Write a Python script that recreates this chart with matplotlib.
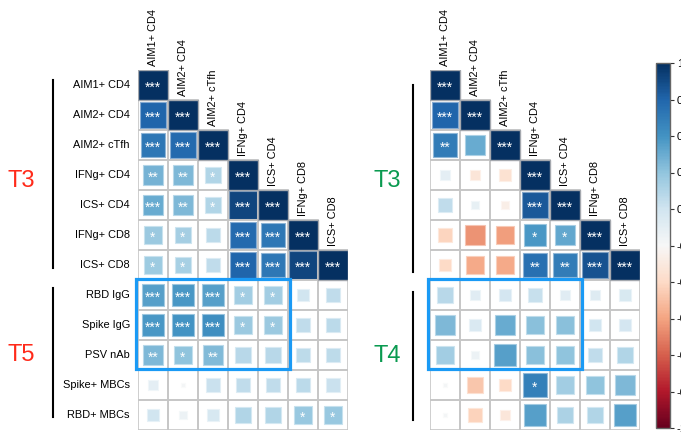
import numpy as np
import matplotlib
matplotlib.use('Agg')
import matplotlib.pyplot as plt
from matplotlib.patches import Rectangle
from matplotlib.colors import Normalize, to_rgb
import matplotlib.cm as cm

plt.rcParams['font.family'] = ['Liberation Sans', 'DejaVu Sans']

# variaveis (linhas) e colunas da matriz triangular inferior
linhas = ['AIM1+ CD4', 'AIM2+ CD4', 'AIM2+ cTfh', 'IFNg+ CD4', 'ICS+ CD4',
          'IFNg+ CD8', 'ICS+ CD8', 'RBD IgG', 'Spike IgG', 'PSV nAb',
          'Spike+ MBCs', 'RBD+ MBCs']
colunas = linhas[:7]

# correlacoes T3 x T5
corr_t5 = [
    [1.00],
    [0.80, 1.00],
    [0.72, 0.78, 1.00],
    [0.47, 0.45, 0.30, 1.00],
    [0.50, 0.45, 0.30, 0.92, 1.00],
    [0.37, 0.34, 0.27, 0.78, 0.72, 1.00],
    [0.36, 0.33, 0.25, 0.80, 0.72, 0.92, 1.00],
    [0.55, 0.58, 0.55, 0.35, 0.35, 0.20, 0.25],
    [0.58, 0.60, 0.62, 0.37, 0.37, 0.25, 0.27],
    [0.45, 0.40, 0.44, 0.28, 0.28, 0.26, 0.26],
    [0.10, 0.02, 0.22, 0.25, 0.25, 0.27, 0.22],
    [0.20, 0.06, 0.17, 0.30, 0.30, 0.38, 0.38],
]
sig_t5 = [
    ['***'],
    ['***', '***'],
    ['***', '***', '***'],
    ['**', '**', '*', '***'],
    ['***', '**', '*', '***', '***'],
    ['*', '*', '', '***', '***', '***'],
    ['*', '*', '', '***', '***', '***', '***'],
    ['***', '***', '***', '*', '*', '', ''],
    ['***', '***', '***', '*', '*', '', ''],
    ['**', '*', '**', '', '', '', ''],
    ['', '', '', '', '', '', ''],
    ['', '', '', '', '', '*', '*'],
]

# correlacoes T3 x T4
corr_t4 = [
    [1.00],
    [0.80, 1.00],
    [0.70, 0.50, 1.00],
    [0.10, -0.13, -0.15, 1.00],
    [0.25, 0.08, -0.07, 0.85, 1.00],
    [-0.22, -0.45, -0.42, 0.58, 0.52, 1.00],
    [-0.20, -0.38, -0.38, 0.75, 0.70, 0.87, 1.00],
    [0.28, 0.12, 0.18, 0.23, 0.12, 0.13, 0.16],
    [0.45, 0.15, 0.50, 0.42, 0.42, 0.20, 0.18],
    [0.35, 0.06, 0.55, 0.42, 0.40, 0.25, 0.30],
    [0.02, -0.28, -0.20, 0.68, 0.35, 0.40, 0.45],
    [0.02, -0.23, -0.12, 0.55, 0.32, 0.30, 0.55],
]
sig_t4 = [
    ['***'],
    ['***', '***'],
    ['**', '', '***'],
    ['', '', '', '***'],
    ['', '', '', '***', '***'],
    ['', '', '', '*', '*', '***'],
    ['', '', '', '**', '**', '***', '***'],
    ['', '', '', '', '', '', ''],
    ['', '', '', '', '', '', ''],
    ['', '', '', '', '', '', ''],
    ['', '', '', '*', '', '', ''],
    ['', '', '', '', '', '', ''],
]

cmap = plt.get_cmap('RdBu')
norm = Normalize(vmin=-1, vmax=1)
cor_grade = '#c6c6c6'
cor_caixa = '#1a9af5'


def clarear(cor, f=0.45):
    c = np.array(to_rgb(cor))
    return tuple(c + (1 - c) * f)


def desenha_matriz(ax, corr, sig):
    n_lin = len(corr)
    for i in range(n_lin):
        for j, r in enumerate(corr[i]):
            # grade da celula
            ax.add_patch(Rectangle((j, i), 1, 1, fill=False, edgecolor=cor_grade,
                                   linewidth=1.2, zorder=3))
            # quadrado com area proporcional a |r|
            lado = np.sqrt(abs(r)) * 0.96 if i != j else 1.0
            cor = cmap(norm(r))
            borda = '#a4a8ae' if i == j else clarear(cor)
            ax.add_patch(Rectangle((j + 0.5 - lado / 2, i + 0.5 - lado / 2), lado, lado,
                                   facecolor=cor, edgecolor=borda,
                                   linewidth=1.0 if i == j else 0.8, zorder=2 if i != j else 4))
            if sig[i][j]:
                ax.text(j + 0.5, i + 0.6, sig[i][j], ha='center', va='center',
                        color='white', fontsize=10, zorder=5)
    # rotulos das colunas sobre a diagonal
    for j, nome in enumerate(colunas):
        ax.text(j + 0.5, j - 0.13, nome, rotation=90, ha='center', va='bottom',
                fontsize=7.9, color='black')
    ax.set_xlim(0, 7)
    ax.set_ylim(n_lin, 0)
    ax.axis('off')


fig = plt.figure(figsize=(6.81, 4.33), dpi=100)
W, H = 681, 433

ax1 = fig.add_axes([138 / W, (H - 430) / H, 210 / W, 360 / H])
ax2 = fig.add_axes([430 / W, (H - 430) / H, 210 / W, 360 / H])

desenha_matriz(ax1, corr_t5, sig_t5)
desenha_matriz(ax2, corr_t4, sig_t4)

# rotulos das linhas (so na matriz da esquerda)
for i, nome in enumerate(linhas):
    ax1.text(-0.27, i + 0.5, nome, ha='right', va='center', fontsize=7.9, color='black')

# grupos
vermelho = '#ff2a1a'
verde = '#0a9a50'
ax1.text(-3.9, 3.7, 'T3', color=vermelho, fontsize=17, ha='center', va='center')
ax1.text(-3.9, 9.5, 'T5', color=vermelho, fontsize=17, ha='center', va='center')
ax2.text(-1.43, 3.7, 'T3', color=verde, fontsize=17, ha='center', va='center')
ax2.text(-1.43, 9.55, 'T4', color=verde, fontsize=17, ha='center', va='center')

ax1.plot([-2.83, -2.83], [0.33, 6.6], color='black', lw=1.5, clip_on=False)
ax1.plot([-2.83, -2.83], [7.27, 11.57], color='black', lw=1.5, clip_on=False)
ax2.plot([-0.57, -0.57], [0.5, 6.73], color='black', lw=1.5, clip_on=False)
ax2.plot([-0.57, -0.57], [7.4, 11.67], color='black', lw=1.5, clip_on=False)

# destaque anticorpos x celulas T
for ax in (ax1, ax2):
    ax.add_patch(Rectangle((-0.07, 6.95), 5.12, 3.02, fill=False, edgecolor=cor_caixa,
                           linewidth=2.3, zorder=6, clip_on=False))

# barra de cores
cax = fig.add_axes([656 / W, (H - 428) / H, 14 / W, 365 / H])
sm = cm.ScalarMappable(norm=norm, cmap=cmap)
marcas = np.round(np.arange(-1, 1.01, 0.2), 1)
cb = fig.colorbar(sm, cax=cax, ticks=marcas)
cb.ax.set_yticklabels([f'{t:g}' for t in marcas])
cb.ax.tick_params(labelsize=8, length=3, width=0.8, color='#333333', pad=2)
cb.outline.set_edgecolor('#666666')
cb.outline.set_linewidth(1.0)

plt.savefig('out.png', dpi=100)
